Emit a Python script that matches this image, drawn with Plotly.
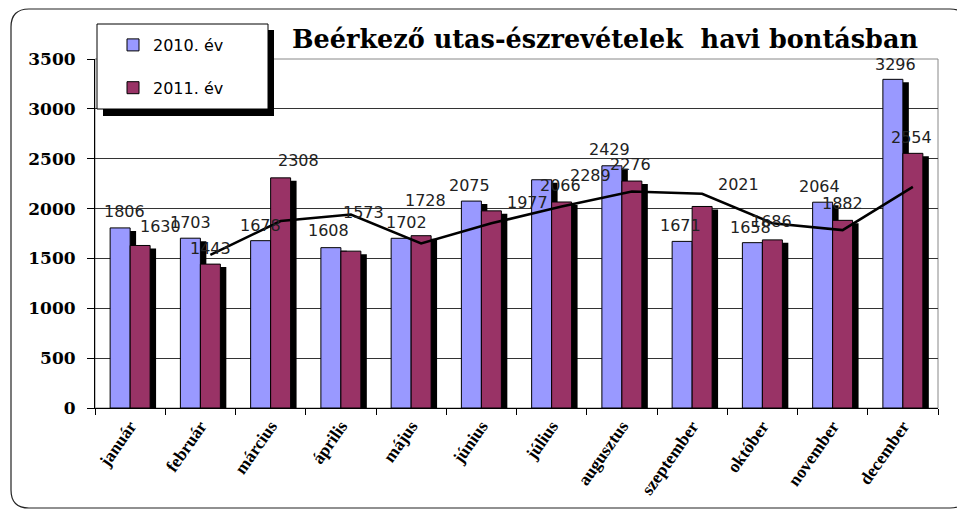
import plotly.graph_objects as go

MONTHS = ["január", "február", "március", "április", "május", "június",
          "július", "augusztus", "szeptember", "október", "november", "december"]
Y2010 = [1806, 1703, 1678, 1608, 1702, 2075, 2289, 2429, 1671, 1658, 2064, 3296]
Y2011 = [1630, 1443, 2308, 1573, 1728, 1977, 2066, 2276, 2021, 1686, 1882, 2554]
# 2 tagú mozgóátlag (2011), február-december
TREND = [1536, 1875, 1940, 1650, 1852, 2021, 2171, 2148, 1853, 1784, 2218]

C2010 = "#9999FF"
C2011 = "#993366"

# címkék eltolása (px) a hasáb tetejéhez képest
DX_2010 = [4, 0, 0, -2, 5, -2, 49, -2, -2, -2, -3, 3]
DY_2010 = [16, 16, 15, 17, 16, 16, 4, 16, 16, 15, 16, 15]
DX_2011 = [20, 0, 18, 13, 4, 36, -1, -1, 36, -1, 0, -1]
DY_2011 = [19, 16, 17, 39, 35, 8, 16, 17, 22, 18, 17, 16]

# a böngésző body margója (8px) miatt az ábra kisebb és eltolt
PAD = 8
W, H = 965 - PAD, 510 - PAD
L, R, T, B = 95 - PAD, 27, 59 - PAD, 102
PW, PH = W - L - R, H - T - B

BAR_W = 0.2845       # hasáb szélesség kategóriában
SH_DX = 0.085        # árnyék eltolás jobbra
SH_DY = 30           # árnyék eltolás lefelé (adategység)


def px(x):
    """képernyő x (px) -> paper"""
    return (x - PAD - L) / PW


def py(y):
    """képernyő y (px) -> paper"""
    return (H - B - (y - PAD)) / PH


def rounded_rect(x0, y0, x1, y1, r):
    pts = [
        f"M {px(x0 + r)} {py(y0)}",
        f"L {px(x1 - r)} {py(y0)}",
        f"Q {px(x1)} {py(y0)} {px(x1)} {py(y0 + r)}",
        f"L {px(x1)} {py(y1 - r)}",
        f"Q {px(x1)} {py(y1)} {px(x1 - r)} {py(y1)}",
        f"L {px(x0 + r)} {py(y1)}",
        f"Q {px(x0)} {py(y1)} {px(x0)} {py(y1 - r)}",
        f"L {px(x0)} {py(y0 + r)}",
        f"Q {px(x0)} {py(y0)} {px(x0 + r)} {py(y0)}",
        "Z",
    ]
    return " ".join(pts)


fig = go.Figure()

# árnyékok
for vals, off in [(Y2010, -BAR_W), (Y2011, 0)]:
    fig.add_trace(go.Bar(
        x=MONTHS, y=vals, base=-SH_DY, offset=off + SH_DX, width=BAR_W,
        marker=dict(color="black", line=dict(width=0)),
        showlegend=False, hoverinfo="skip",
    ))

fig.add_trace(go.Bar(
    x=MONTHS, y=Y2010, offset=-BAR_W, width=BAR_W, name="2010. év",
    legendgroup="a",
    marker=dict(color=C2010, line=dict(color="black", width=1)),
))
fig.add_trace(go.Bar(
    x=MONTHS, y=Y2011, offset=0, width=BAR_W, name="2011. év",
    legendgroup="b",
    marker=dict(color=C2011, line=dict(color="black", width=1)),
))

fig.add_trace(go.Scatter(
    x=[i + BAR_W / 2 for i in range(1, len(MONTHS))], y=TREND,
    xaxis="x2", mode="lines", line=dict(color="black", width=2.5),
    showlegend=False, hoverinfo="skip",
))

annotations = []
for series, dxs, dys, base_dx in [(Y2010, DX_2010, DY_2010, -10), (Y2011, DX_2011, DY_2011, 10)]:
    for m, v, dx, dy in zip(MONTHS, series, dxs, dys):
        annotations.append(dict(
            x=m, y=v, xref="x", yref="y", text=str(v), showarrow=False,
            xshift=base_dx + dx, yshift=dy, yanchor="middle",
            font=dict(family="DejaVu Sans", size=16, color="#222222"),
        ))

shapes = [
    # külső keret
    dict(type="path", xref="paper", yref="paper",
         path=rounded_rect(11, 9, 968, 508, 18),
         line=dict(color="#222222", width=1.2), layer="below"),
    # rajzterület kerete
    dict(type="rect", xref="paper", yref="paper", x0=0, x1=1, y0=0, y1=1,
         line=dict(color="#888888", width=1), layer="below"),
    # jelmagyarázat árnyéka és doboza
    dict(type="rect", xref="paper", yref="paper",
         x0=px(103), x1=px(274), y0=py(116), y1=py(30),
         fillcolor="black", line=dict(width=0)),
    dict(type="rect", xref="paper", yref="paper",
         x0=px(97), x1=px(268), y0=py(109), y1=py(24),
         fillcolor="white", line=dict(color="black", width=1)),
]

fig.update_layout(
    width=W, height=H,
    barmode="overlay",
    margin=dict(l=L, r=R, t=T, b=B),
    paper_bgcolor="white",
    plot_bgcolor="white",
    title=dict(
        text="Beérkező utas-észrevételek  havi bontásban",
        x=px(605), xref="paper", xanchor="center",
        y=1 - (39 - PAD) / H, yref="container", yanchor="middle",
        font=dict(family="DejaVu Serif", size=25.5, color="black", weight="bold"),
    ),
    xaxis=dict(
        type="category", range=[-0.5, len(MONTHS) - 0.5],
        tickson="boundaries", ticks="outside", ticklen=6, tickcolor="black",
        showline=True, linecolor="black", linewidth=1,
        tickangle=-55, showgrid=False,
        tickfont=dict(family="Liberation Serif", size=17.5, color="black", weight="bold"),
    ),
    xaxis2=dict(
        overlaying="x", anchor="y", range=[-0.5, len(MONTHS) - 0.5],
        visible=False,
    ),
    yaxis=dict(
        range=[0, 3500], dtick=500,
        ticks="outside", ticklen=7, tickcolor="black",
        showline=True, linecolor="black", linewidth=1,
        showgrid=True, gridcolor="#333333", gridwidth=1,
        zeroline=False, ticklabelstandoff=8,
        tickfont=dict(family="DejaVu Serif", size=17, color="black", weight="bold"),
    ),
    legend=dict(
        x=px(113), y=py(28), xanchor="left", yanchor="top",
        bgcolor="rgba(0,0,0,0)", borderwidth=0,
        tracegroupgap=19,
        font=dict(family="DejaVu Sans", size=16, color="black"),
    ),
    annotations=annotations,
    shapes=shapes,
)

fig.write_html("out.html")
